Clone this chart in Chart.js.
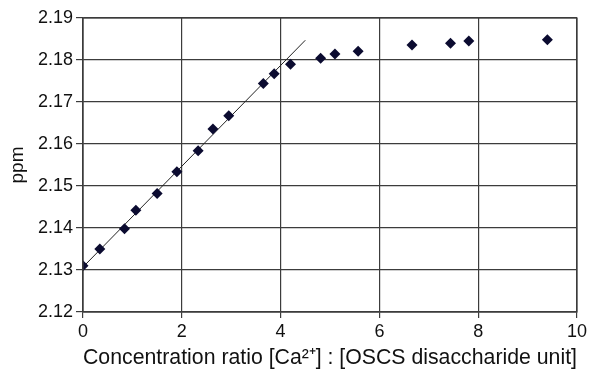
<!DOCTYPE html>
<html>
<head>
<meta charset="utf-8">
<script src="https://cdn.jsdelivr.net/npm/chart.js@4.4.1/dist/chart.umd.min.js"></script>
<style>
html,body{margin:0;padding:0;background:#fff;}
#wrap{width:590px;height:371px;position:relative;}
</style>
</head>
<body>
<div id="wrap"><canvas id="c" width="590" height="371"></canvas></div>
<script>
// Measured data points (ratio, ppm)
const ratioValues = [0, 0.34, 0.84, 1.07, 1.50, 1.90, 2.33, 2.63, 2.95, 3.65, 3.87, 4.20, 4.81, 5.10, 5.57, 6.66, 7.44, 7.81, 9.40];
const ppmValues   = [2.1310, 2.1350, 2.1398, 2.1442, 2.1482, 2.1534, 2.1584, 2.1636, 2.1667, 2.1744, 2.1767, 2.1790, 2.1804, 2.1814, 2.1821, 2.1836, 2.1840, 2.1845, 2.1848];
// Linear fit line endpoints
const fitX = [0, 4.5];
const fitY = [2.1307, 2.1847];
// Axis ticks
const xTicks = [0, 2, 4, 6, 8, 10];
const yTicks = [2.12, 2.13, 2.14, 2.15, 2.16, 2.17, 2.18, 2.19];

const points = ratioValues.map((x, i) => ({x: x, y: ppmValues[i]}));
const fitLine = fitX.map((x, i) => ({x: x, y: fitY[i]}));

const gridColor = '#3c3c3c';
const font = 'Liberation Sans, Arial, sans-serif';

new Chart(document.getElementById('c'), {
  type: 'scatter',
  data: {
    datasets: [
      {
        label: 'fit',
        type: 'line',
        data: fitLine,
        borderColor: '#222',
        borderWidth: 1,
        pointRadius: 0,
        fill: false,
        order: 2
      },
      {
        label: 'data',
        data: points,
        pointStyle: 'rectRot',
        pointRadius: 5.5,
        pointBackgroundColor: '#0b0b30',
        pointBorderColor: '#0b0b30',
        pointBorderWidth: 0,
        order: 1
      }
    ]
  },
  options: {
    responsive: false,
    animation: false,
    layout: {padding: {top: 18, right: 13, left: 0, bottom: 0}},
    plugins: {legend: {display: false}, tooltip: {enabled: false}},
    scales: {
      x: {
        type: 'linear',
        min: 0, max: 10,
        afterBuildTicks: s => { s.ticks = xTicks.map(v => ({value: v})); },
        afterFit: s => { s.height = 59; },
        grid: {color: gridColor, lineWidth: 1.2, tickLength: 6, drawTicks: true},
        border: {color: gridColor, width: 1.2},
        ticks: {color: '#111', font: {family: font, size: 18}, padding: 3, maxRotation: 0},
        title: {display: true, text: 'Concentration ratio [Ca²⁺] : [OSCS disaccharide unit]', color: '#111', font: {family: font, size: 22}, padding: {top: 0, bottom: 0}}
      },
      y: {
        type: 'linear',
        min: 2.12, max: 2.19,
        afterBuildTicks: s => { s.ticks = yTicks.map(v => ({value: v})); },
        afterFit: s => { s.width = 83; },
        grid: {color: gridColor, lineWidth: 1.2, tickLength: 7, drawTicks: true},
        border: {color: gridColor, width: 1.2},
        ticks: {color: '#111', font: {family: font, size: 18}, padding: 3, callback: v => v.toFixed(2)},
        title: {display: true, text: 'ppm', color: '#111', font: {family: font, size: 19}, padding: {top: 6, bottom: 2}}
      }
    }
  },
  plugins: [{
    id: 'frame',
    afterDraw(chart) {
      const a = chart.chartArea, ctx = chart.ctx;
      ctx.save();
      ctx.strokeStyle = gridColor;
      ctx.lineWidth = 1.2;
      ctx.strokeRect(a.left, a.top, a.right - a.left, a.bottom - a.top);
      ctx.restore();
    }
  }]
});
</script>
</body>
</html>
